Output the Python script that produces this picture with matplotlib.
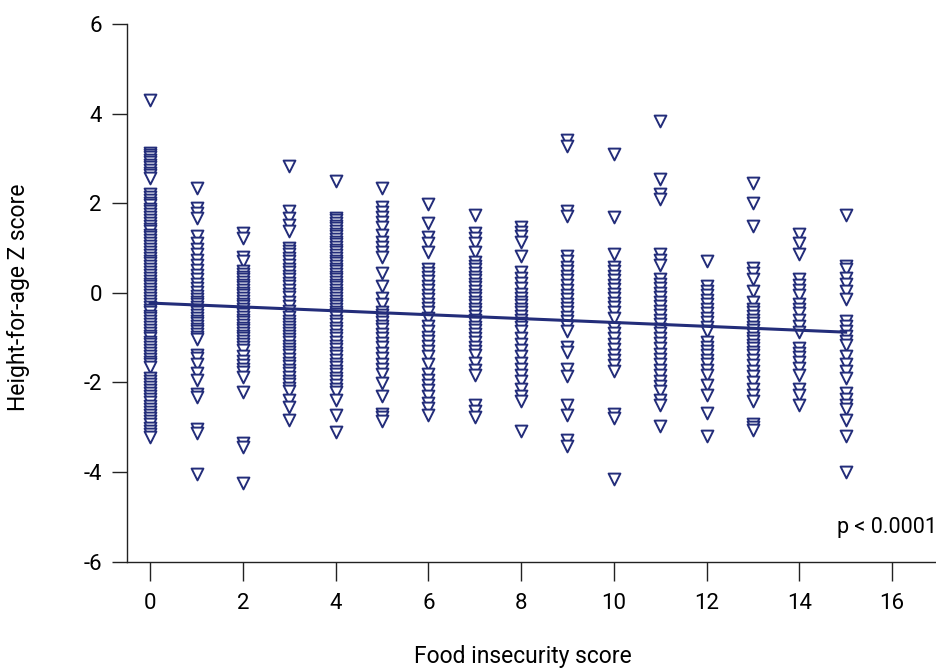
import matplotlib
matplotlib.use("Agg")
import matplotlib.pyplot as plt
import numpy as np

plt.rcParams['font.family'] = ['Roboto', 'DejaVu Sans']
plt.rcParams['axes.unicode_minus'] = False

# Height-for-age Z scores by food insecurity score
hfa = {
    0: [4.30,
        3.12, 3.08, 3.02, 2.97, 2.92, 2.86, 2.80, 2.74, 2.68, 2.62, 2.57,
        2.20, 2.14, 2.08, 2.01, 1.95, 1.88, 1.82, 1.75, 1.69, 1.62, 1.56, 1.49,
        1.43, 1.37, 1.30, 1.24, 1.17, 1.11, 1.04, 0.98, 0.91, 0.85, 0.78, 0.72,
        0.66, 0.59, 0.53, 0.46, 0.40, 0.33, 0.27, 0.20, 0.14, 0.08, 0.01, -0.05,
        -0.12, -0.18, -0.25, -0.31, -0.38, -0.44, -0.51, -0.57, -0.63, -0.70,
        -0.76, -0.83, -0.89, -0.96, -1.02, -1.09, -1.15, -1.22, -1.28, -1.35,
        -1.41, -1.47, -1.54, -1.60, -1.66, -1.90, -1.97, -2.04, -2.10, -2.17,
        -2.24, -2.31, -2.38, -2.45, -2.52, -2.59, -2.66, -2.73, -2.80, -2.87,
        -2.94, -3.01, -3.08, -3.15, -3.22],
    1: [2.33, 1.90, 1.78, 1.66, 1.26, 1.12, 0.98, 0.86, 0.74, 0.62, 0.50, 0.40,
        0.30, 0.20, 0.10, 0.02, -0.08, -0.14, -0.20, -0.26, -0.32, -0.38, -0.44,
        -0.50, -0.56, -0.62, -0.68, -0.74, -0.80, -0.86, -0.92, -0.98, -1.04,
        -1.38, -1.46, -1.58, -1.80, -1.95, -2.25, -2.32, -3.05, -3.12, -4.05],
    2: [1.33, 1.22, 0.80, 0.72, 0.48, 0.42, 0.36, 0.30, 0.24, 0.18, 0.12, 0.06,
        0.00, -0.06, -0.12, -0.18, -0.24, -0.30, -0.36, -0.42, -0.48, -0.54,
        -0.60, -0.66, -0.72, -0.78, -0.84, -0.90, -0.96, -1.02, -1.08, -1.14,
        -1.20, -1.28, -1.42, -1.52, -1.62, -1.70, -1.78, -1.88, -2.22, -3.35,
        -3.45, -4.25],
    3: [2.82, 1.82, 1.68, 1.52, 1.38, 1.00, 0.93, 0.86, 0.78, 0.70, 0.62, 0.54,
        0.46, 0.38, 0.30, 0.22, 0.14, 0.06, -0.02, -0.10, -0.20, -0.30, -0.40,
        -0.55, -0.62, -0.69, -0.76, -0.83, -0.90, -0.97, -1.04, -1.11, -1.18,
        -1.25, -1.32, -1.40, -1.48, -1.56, -1.64, -1.72, -1.80, -1.88, -1.96,
        -2.04, -2.12, -2.20, -2.40, -2.56, -2.85],
    4: [2.50, 1.68, 1.62, 1.56, 1.50, 1.44, 1.38, 1.32, 1.26, 1.20, 1.14, 1.08,
        1.02, 0.96, 0.90, 0.84, 0.78, 0.72, 0.66, 0.60, 0.54, 0.48, 0.42, 0.36,
        0.30, 0.24, 0.18, 0.12, 0.06, 0.00, -0.06, -0.12, -0.18, -0.24, -0.30,
        -0.36, -0.42, -0.48, -0.54, -0.62, -0.70, -0.78, -0.86, -0.94, -1.02,
        -1.10, -1.18, -1.26, -1.34, -1.42, -1.50, -1.58, -1.66, -1.74, -1.82,
        -1.90, -1.98, -2.06, -2.14, -2.22, -2.40, -2.72, -3.10],
    5: [2.33, 1.92, 1.80, 1.70, 1.58, 1.46, 1.30, 1.14, 1.02, 0.90, 0.80, 0.44,
        0.14, -0.12, -0.26, -0.42, -0.50, -0.58, -0.66, -0.74, -0.82, -0.92,
        -1.02, -1.12, -1.22, -1.34, -1.46, -1.58, -1.70, -1.82, -2.02, -2.30,
        -2.70, -2.78, -2.86],
    6: [1.98, 1.56, 1.24, 1.12, 0.90, 0.52, 0.44, 0.36, 0.26, 0.16, 0.06, -0.04,
        -0.14, -0.24, -0.34, -0.44, -0.56, -0.74, -0.86, -0.98, -1.08, -1.18,
        -1.30, -1.42, -1.58, -1.82, -1.94, -2.06, -2.18, -2.30, -2.46, -2.58,
        -2.74],
    7: [1.74, 1.34, 1.22, 1.10, 0.90, 0.68, 0.60, 0.52, 0.44, 0.36, 0.28, 0.20,
        0.12, 0.04, -0.04, -0.12, -0.20, -0.28, -0.36, -0.44, -0.52, -0.60,
        -0.68, -0.76, -0.84, -0.92, -1.00, -1.10, -1.20, -1.30, -1.40, -1.56,
        -1.72, -1.84, -2.50, -2.64, -2.78],
    8: [1.46, 1.36, 1.26, 1.14, 0.82, 0.46, 0.34, 0.22, 0.10, -0.02, -0.12,
        -0.20, -0.28, -0.36, -0.44, -0.52, -0.60, -0.68, -0.76, -0.86, -1.00,
        -1.14, -1.28, -1.42, -1.56, -1.70, -1.84, -1.98, -2.14, -2.30, -2.42,
        -3.08],
    9: [3.42, 3.27, 1.82, 1.72, 0.82, 0.70, 0.58, 0.48, 0.38, 0.28, 0.18, 0.06,
        -0.04, -0.14, -0.24, -0.34, -0.44, -0.54, -0.64, -0.74, -0.86, -1.20,
        -1.32, -1.70, -1.86, -2.50, -2.74, -3.28, -3.42],
    10: [3.10, 1.70, 0.86, 0.58, 0.48, 0.38, 0.28, 0.18, 0.08, -0.02, -0.12,
         -0.22, -0.32, -0.44, -0.56, -0.78, -0.90, -1.02, -1.14, -1.26, -1.38,
         -1.50, -1.62, -1.74, -2.70, -2.80, -4.15],
    11: [3.84, 2.53, 2.20, 2.10, 0.86, 0.74, 0.62, 0.30, 0.20, 0.10, 0.00,
         -0.10, -0.20, -0.30, -0.40, -0.50, -0.60, -0.70, -0.80, -0.90, -1.00,
         -1.12, -1.24, -1.36, -1.48, -1.60, -1.72, -1.84, -1.96, -2.08, -2.20,
         -2.40, -2.50, -2.98],
    12: [0.72, 0.14, 0.04, -0.06, -0.16, -0.26, -0.36, -0.46, -0.56, -0.66,
         -0.76, -0.86, -1.10, -1.20, -1.30, -1.40, -1.50, -1.60, -1.72, -1.84,
         -2.06, -2.28, -2.68, -3.20],
    13: [2.46, 2.00, 1.50, 0.56, 0.44, 0.30, 0.04, -0.20, -0.36, -0.44, -0.52,
         -0.60, -0.68, -0.76, -0.84, -0.92, -1.00, -1.08, -1.16, -1.24, -1.32,
         -1.40, -1.50, -1.62, -1.74, -1.86, -2.00, -2.14, -2.28, -2.42, -2.94,
         -3.00, -3.06],
    14: [1.32, 1.12, 0.86, 0.30, 0.18, 0.06, -0.06, -0.24, -0.36, -0.46, -0.60,
         -0.74, -0.88, -1.24, -1.34, -1.44, -1.54, -1.68, -1.84, -2.14, -2.28,
         -2.50],
    15: [1.74, 0.60, 0.52, 0.32, 0.20, 0.04, -0.14, -0.64, -0.74, -0.86, -0.96,
         -1.08, -1.16, -1.42, -1.58, -1.74, -1.90, -2.24, -2.38, -2.50, -2.60,
         -2.84, -3.20, -4.00],
}

# Regression line
line_x = [0, 15]
line_y = [-0.23, -0.88]

x_ticks = [0, 2, 4, 6, 8, 10, 12, 14, 16]
y_ticks = [-6, -4, -2, 0, 2, 4, 6]

color = '#232d7a'

fig = plt.figure(figsize=(9.37, 6.68), dpi=100)
ax = fig.add_axes([127 / 937, (668 - 561.5) / 668, (937 - 127) / 937, (561.5 - 24) / 668])

xs = []
ys = []
for k, vals in hfa.items():
    xs.extend([k] * len(vals))
    ys.extend(vals)

ax.scatter(xs, ys, marker='v', s=8.5 ** 2, facecolors='white', edgecolors=color,
           linewidths=1.4, zorder=2)
ax.plot(line_x, line_y, color=color, lw=2.2, zorder=3)

ax.set_xlim(-0.5, 16.97)
ax.set_ylim(-6, 6)
ax.set_xticks(x_ticks)
ax.set_yticks(y_ticks)
ax.spines['top'].set_visible(False)
ax.spines['right'].set_visible(False)
for s in ['left', 'bottom']:
    ax.spines[s].set_linewidth(1.0)
    ax.spines[s].set_color('#222222')
ax.tick_params(axis='y', length=11, width=1.0, pad=7, labelsize=16, color='#222222')
ax.tick_params(axis='x', length=14, width=1.0, pad=9, labelsize=16, color='#222222')

fig.text(523 / 937, 1 - 657 / 668, 'Food insecurity score', ha='center', va='center',
         fontsize=16.5)
fig.text(19 / 937, 1 - 297 / 668, 'Height-for-age Z score', ha='center', va='center',
         rotation=90, fontsize=16.5)

ax.text(1.0, 0.0625, 'p < 0.0001', transform=ax.transAxes, ha='right', va='center',
        fontsize=15.5)

fig.savefig('out.png', dpi=100)
